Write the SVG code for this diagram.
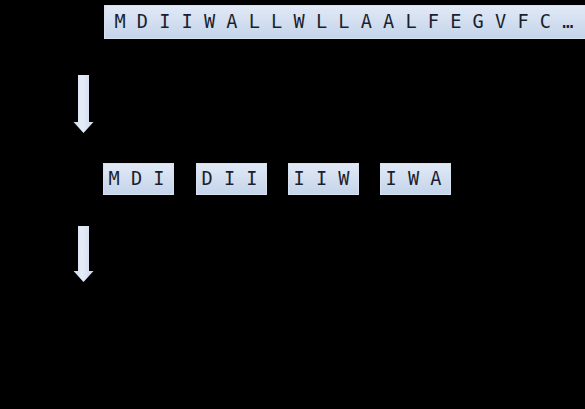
<svg xmlns="http://www.w3.org/2000/svg" width="585" height="409" viewBox="0 0 585 409">
  <defs>
    <linearGradient id="boxGrad" x1="0" y1="0" x2="0" y2="1">
      <stop offset="0" stop-color="#e1e9f6"/>
      <stop offset="1" stop-color="#c4d4ea"/>
    </linearGradient>
    <linearGradient id="arrowGrad" x1="0" y1="0" x2="1" y2="0">
      <stop offset="0" stop-color="#c9d6ea"/>
      <stop offset="0.4" stop-color="#e6edf7"/>
      <stop offset="1" stop-color="#cdd9ec"/>
    </linearGradient>
  </defs>
  <style>
    .box { fill: url(#boxGrad); stroke: #d6e0ef; stroke-width: 1; }
    .seq { font-family: "DejaVu Sans Mono", "Liberation Mono", monospace; font-size: 18.6px; fill: #1b1f2e; }
    .arrow { fill: url(#arrowGrad); stroke: none; }
  </style>
  <rect width="585" height="409" fill="#000000"/>

  <g id="sequence">
    <rect class="box" x="104.5" y="5.5" width="485" height="33"/>
    <text class="seq" x="114.4" y="28.3" xml:space="preserve">M D I I W A L L W L L A A L F E G V F C …</text>
  </g>

  <g id="kmer-MDI">
    <rect class="box" x="103.5" y="163.5" width="70" height="31"/>
    <text class="seq" x="108.5" y="185">M D I</text>
  </g>
  <g id="kmer-DII">
    <rect class="box" x="196.5" y="163.5" width="70" height="31"/>
    <text class="seq" x="201.5" y="185">D I I</text>
  </g>
  <g id="kmer-IIW">
    <rect class="box" x="288.5" y="163.5" width="70" height="31"/>
    <text class="seq" x="293.5" y="185">I I W</text>
  </g>
  <g id="kmer-IWA">
    <rect class="box" x="380.5" y="163.5" width="70" height="31"/>
    <text class="seq" x="385.5" y="185">I W A</text>
  </g>

  <g id="connectors">
    <path class="arrow" d="M78,75 L89,75 L89,122 L93.5,122 L83.5,133 L73.5,122 L78,122 Z"/>
    <path class="arrow" d="M78,226 L89,226 L89,271 L93.5,271 L83.5,282 L73.5,271 L78,271 Z"/>
  </g>
</svg>
